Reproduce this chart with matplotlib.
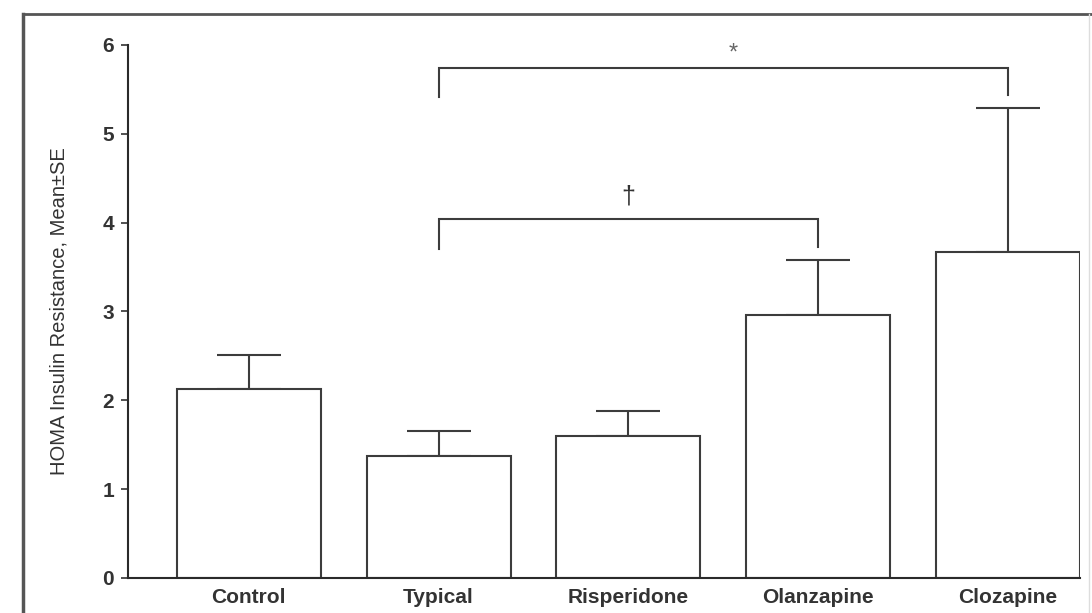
import matplotlib
matplotlib.use("Agg")
import matplotlib.pyplot as plt
from matplotlib.lines import Line2D

# group means and upper SE limits (HOMA-IR)
groups = ["Control", "Typical", "Risperidone", "Olanzapine", "Clozapine"]
means = [2.13, 1.37, 1.60, 2.96, 3.67]
upper = [2.51, 1.66, 1.88, 3.58, 5.29]

# significance brackets: (left group, right group, bracket height, leg bottoms, mark, mark y)
brackets = [
    (1, 4, 5.74, (5.42, 5.44), "*", 5.90),
    (1, 3, 4.04, (3.70, 3.73), "\u2020", 4.29),
]

plt.rcParams["font.family"] = ["Liberation Sans", "DejaVu Sans"]

fig = plt.figure(figsize=(10.92, 6.13), dpi=100)
ax = fig.add_axes([0.1172, 0.0571, 0.8718, 0.8695])

x = list(range(len(groups)))
err = [[0] * len(means), [u - m for u, m in zip(upper, means)]]

ax.bar(x, means, width=0.76, color="white", edgecolor="#3c3c3c",
       linewidth=1.5, zorder=2)
ax.errorbar(x, means, yerr=err, fmt="none", ecolor="#3c3c3c",
            elinewidth=1.5, capsize=23, capthick=1.5, zorder=1)

for i, j, h, (lb, rb), mark, my in brackets:
    ax.plot([i, i, j, j], [lb, h, h, rb], color="#3c3c3c", lw=1.5,
            solid_joinstyle="miter", zorder=3)
    if mark == "*":
        ax.text((i + j) / 2 + 0.05, my, mark, ha="center", va="center",
                fontsize=17, color="#666666")
    else:
        ax.text((i + j) / 2, my, mark, ha="center", va="center",
                fontsize=18, color="#333333")

ax.set_xlim(-0.637, 4.38)
ax.set_ylim(0, 6)
ax.set_yticks(range(7))
ax.set_xticks(x)
ax.set_xticklabels(groups, fontsize=15, fontweight="bold", color="#333333")
for lab in ax.get_yticklabels():
    lab.set_fontsize(15)
    lab.set_fontweight("bold")
    lab.set_color("#333333")
ax.tick_params(axis="x", length=0, pad=7)
ax.tick_params(axis="y", length=5, width=1.2, pad=5, color="#333333")

ax.spines["top"].set_visible(False)
ax.spines["right"].set_visible(False)
for s in ("left", "bottom"):
    ax.spines[s].set_linewidth(1.5)
    ax.spines[s].set_color("#2a2a2a")

ax.set_ylabel("HOMA Insulin Resistance, Mean\u00b1SE",
              fontsize=14.5, color="#333333")
ax.yaxis.set_label_coords(-0.063, 0.5)

# outer frame of the figure panel
fig.add_artist(Line2D([0.021, 0.021], [0.0, 0.977], transform=fig.transFigure,
                      color="#555555", lw=2.5))
fig.add_artist(Line2D([0.021, 1.0], [0.977, 0.977], transform=fig.transFigure,
                      color="#555555", lw=2.0))
fig.add_artist(Line2D([0.997, 0.997], [0.0, 0.977], transform=fig.transFigure,
                      color="#dddddd", lw=1.0))

fig.savefig("out.png", dpi=100)
